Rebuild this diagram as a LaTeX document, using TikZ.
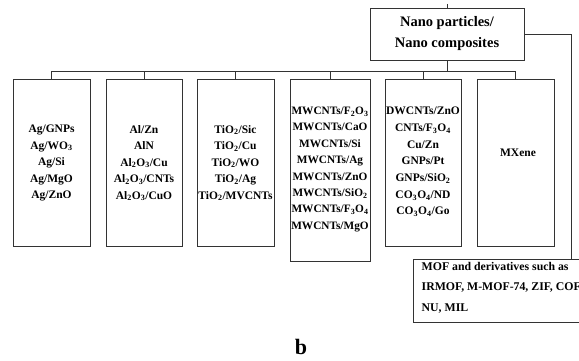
\documentclass[tikz,border=0pt]{standalone}
\usepackage{fontspec}
\setmainfont{Liberation Serif}
\begin{document}
\begin{tikzpicture}[x=1pt,y=-1pt,
  box/.style={draw=black!80, line width=0.9pt, rectangle, inner sep=0pt},
  lbl/.style={font=\fontsize{11.5}{16.5}\selectfont\bfseries, align=center, inner sep=0pt, text=black},
  conn/.style={draw=black!80, line width=0.9pt}]
\useasboundingbox (0,0) rectangle (579,361);
\clip (0,0) rectangle (579,361);
% top box
\node[box, minimum width=154pt, minimum height=52pt] (top) at (447,34) {};
\node[lbl, font=\fontsize{14.5}{21}\selectfont\bfseries] (toptxt) at (447,34) {Nano particles/\\Nano composites};
% category boxes
\node[box, minimum width=77pt, minimum height=167pt] (b1) at (51.5,162.5) {};
\node[box, minimum width=76pt, minimum height=167pt] (b2) at (144,162.5) {};
\node[box, minimum width=77pt, minimum height=167pt] (b3) at (235.5,162.5) {};
\node[box, minimum width=80pt, minimum height=182pt] (b4) at (330,170) {};
\node[box, minimum width=76pt, minimum height=167pt] (b5) at (423,162.5) {};
\node[box, minimum width=77pt, minimum height=167pt] (b6) at (515.5,162.5) {};
% MOF box
\node[box, minimum width=200pt, minimum height=63pt] (mof) at (513,290.5) {};
% texts
\node[lbl] (t1) at (51.5,163) {Ag/GNPs\\Ag/WO\textsubscript{3}\\Ag/Si\\Ag/MgO\\Ag/ZnO};
\node[lbl] (t2) at (144,163) {Al/Zn\\AlN\\Al\textsubscript{2}O\textsubscript{3}/Cu\\Al\textsubscript{2}O\textsubscript{3}/CNTs\\Al\textsubscript{2}O\textsubscript{3}/CuO};
\node[lbl] (t3) at (235.5,163) {TiO\textsubscript{2}/Sic\\TiO\textsubscript{2}/Cu\\TiO\textsubscript{2}/WO\\TiO\textsubscript{2}/Ag\\TiO\textsubscript{2}/MVCNTs};
\node[lbl, font=\fontsize{11.3}{16.4}\selectfont\bfseries] (t4) at (330,169.5) {MWCNTs/F\textsubscript{2}O\textsubscript{3}\\MWCNTs/CaO\\MWCNTs/Si\\MWCNTs/Ag\\MWCNTs/ZnO\\MWCNTs/SiO\textsubscript{2}\\MWCNTs/F\textsubscript{3}O\textsubscript{4}\\MWCNTs/MgO};
\node[lbl, font=\fontsize{11.5}{16.7}\selectfont\bfseries] (t5) at (423,162) {DWCNTs/ZnO\\CNTs/F\textsubscript{3}O\textsubscript{4}\\Cu/Zn\\GNPs/Pt\\GNPs/SiO\textsubscript{2}\\CO\textsubscript{3}O\textsubscript{4}/ND\\CO\textsubscript{3}O\textsubscript{4}/Go};
\node[lbl] (t6) at (518,153) {MXene};
\node[lbl, font=\fontsize{11.8}{20.5}\selectfont\bfseries, align=left, anchor=west] (t7) at (421.5,287.5) {MOF and derivatives such as\\IRMOF, M-MOF-74, ZIF, COF,\\NU, MIL};
\node[font=\fontsize{22}{22}\selectfont\bfseries, inner sep=0pt] (lb) at (301,347) {b};
% connectors
\coordinate (ctop) at (447,4);
\coordinate (bus) at (447,71);
\coordinate (rc) at (571,0);
\draw[conn] (ctop) -- (top.north);
\draw[conn] (top.south) -- (bus);
\draw[conn] (b1.north) |- (bus);
\draw[conn] (b6.north) |- (bus);
\foreach \b in {b2,b3,b4,b5} \draw[conn] (\b.north) -- (\b.north |- bus);
\draw[conn] (top.east) -| (rc |- mof.north);
\end{tikzpicture}
\end{document}
